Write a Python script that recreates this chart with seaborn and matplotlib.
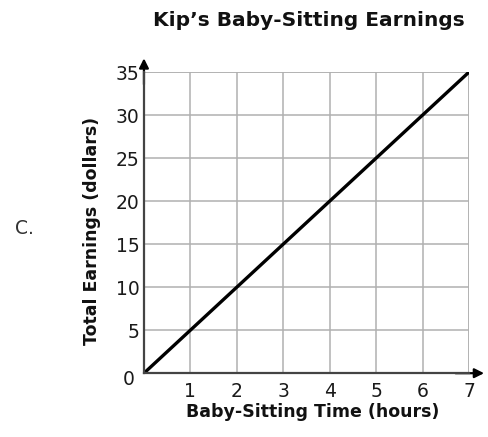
import numpy as np
import pandas as pd
import seaborn as sns
import matplotlib.pyplot as plt

# data
hours = [0, 1, 2, 3, 4, 5, 6, 7]
earnings = [0, 5, 10, 15, 20, 25, 30, 35]
x_ticks = [1, 2, 3, 4, 5, 6, 7]
y_ticks = [5, 10, 15, 20, 25, 30, 35]

df = pd.DataFrame({'hours': hours, 'earnings': earnings})

sns.set_style('white')
plt.rcParams['font.family'] = ['DejaVu Sans']

fig = plt.figure(figsize=(4.88, 4.37), dpi=100)
ax = fig.add_axes([0.295, 0.146, 0.666, 0.689])

sns.lineplot(data=df, x='hours', y='earnings', color='black', linewidth=2.4, ax=ax,
             solid_capstyle='butt', zorder=5)

ax.set_xlim(0, 7)
ax.set_ylim(0, 35)
ax.set_xticks(x_ticks)
ax.set_yticks(y_ticks)
ax.grid(True, color='#b0b0b0', linewidth=1.1)
ax.set_axisbelow(True)

for s in ['top', 'right']:
    ax.spines[s].set_visible(False)
for s in ['left', 'bottom']:
    ax.spines[s].set_color('#444444')
    ax.spines[s].set_linewidth(1.6)
    ax.spines[s].set_zorder(6)

# top and right grid borders
ax.axhline(35, color='#b0b0b0', linewidth=1.1, zorder=1)
ax.axvline(7, color='#b0b0b0', linewidth=1.1, zorder=1)

ax.tick_params(axis='both', length=0, labelsize=13.5, colors='#1a1a1a')
ax.tick_params(axis='x', pad=6)
ax.tick_params(axis='y', pad=3)

# axis arrows
ax.annotate('', xy=(0, 1.055), xytext=(0, 0.95), xycoords='axes fraction',
            arrowprops=dict(arrowstyle='-|>', color='black', lw=1.6, mutation_scale=14))
ax.annotate('', xy=(1.055, 0), xytext=(0.95, 0), xycoords='axes fraction',
            arrowprops=dict(arrowstyle='-|>', color='black', lw=1.6, mutation_scale=14))

# origin label
ax.text(-0.03, -0.02, '0', transform=ax.transAxes, ha='right', va='center',
        fontsize=13.5, color='#1a1a1a')

ax.set_xlabel('Baby-Sitting Time (hours)', fontsize=12.5, fontweight='bold', color='#111111')
ax.set_ylabel('Total Earnings (dollars)', fontsize=12.5, fontweight='bold', color='#111111')
ax.xaxis.set_label_coords(0.52, -0.1)
ax.yaxis.set_label_coords(-0.132, 0.472)
fig.text(0.632, 0.952, 'Kip\u2019s Baby-Sitting Earnings', ha='center', va='center',
         fontsize=14.5, fontweight='bold', color='#111111')
fig.text(0.03, 0.478, 'C.', ha='left', va='center', fontsize=13.5, color='#333333')

fig.savefig('out.png', dpi=100)
